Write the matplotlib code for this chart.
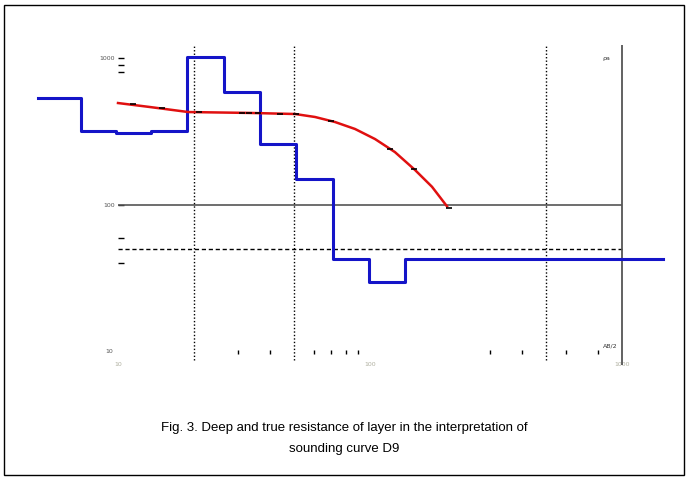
import matplotlib.pyplot as plt
from matplotlib.patches import Rectangle

# true resistance layers (blue step curve)
layer_edges = [4.8, 7.1, 9.8, 13.5, 18.8, 26.3, 36.6, 50.8, 71.3, 99, 138, 1450]
layer_rho = [535, 319, 309, 319, 1016, 587, 260, 150, 43, 30, 43]

# fitted deep resistance curve (red)
curve_ab = [10, 13.4, 19, 33.4, 50.4, 60.5, 72.6, 87.2, 104.7, 125.6, 150.9, 176.2, 202]
curve_rho = [494, 464, 429, 423, 416, 397, 367, 329, 281, 229, 173, 133, 98]

# measured points (black marks)
obs_ab = [11.5, 15, 21, 31, 33, 36, 44, 51, 70, 120, 150, 205]
obs_rho = [487, 458, 427, 421, 421, 420, 419, 417, 370, 240, 175, 96]

y_ticks = [1000, 900, 800, 100, 60, 40]
y_labels = {1000: "1000", 100: "100", 10: "10"}
x_minor = [30, 40, 60, 70, 80, 90, 300, 400, 600, 800]
x_labels = ["10", "100", "1000"]
dotted_x = [20, 50, 500]

fig = plt.figure(figsize=(6.89, 4.8), dpi=100)
fig.patches.append(Rectangle((4 / 689, 5 / 480), 680 / 689, 470 / 480,
                             transform=fig.transFigure, fill=False,
                             edgecolor="black", linewidth=1))

ax = fig.add_axes([30 / 689, 108 / 480, 640 / 689, 332 / 480])
ax.set_xscale("log")
ax.set_yscale("log")
ax.set_xlim(4.475, 1550)
ax.set_ylim(7.31, 1326)
for s in ["top", "right", "left", "bottom"]:
    ax.spines[s].set_visible(False)

# grid lines
ax.hlines(100, 10, 1000, color="#555555", linewidth=1.2)
ax.hlines(50, 10, 1000, color="black", linewidth=1, linestyles=(0, (3, 2)))
ax.vlines(dotted_x, 8.8, 1225, color="black", linewidth=1, linestyles=(0, (1, 1.5)))
ax.vlines(1000, 8.2, 1225, color="#555555", linewidth=1.3)

# curves
ax.step(layer_edges, layer_rho + [layer_rho[-1]], where="post", color="#1414c8", linewidth=2.2)
ax.plot(curve_ab, curve_rho, color="#e01010", linewidth=1.8)
ax.plot(obs_ab, obs_rho, linestyle="none", marker="_", color="black", markersize=4, markeredgewidth=1.2)

# left ticks
ax.set_yticks(y_ticks)
ax.set_yticklabels([y_labels.get(v, "") for v in y_ticks])
ax.yaxis.set_minor_locator(plt.NullLocator())
ax.spines["left"].set_position(("data", 10))
ax.tick_params(axis="y", direction="in", length=4, width=1, pad=2, labelsize=4.5, labelcolor="#555555")
ax.text(9.6, 10, "10", fontsize=4.5, color="#555555", ha="right", va="center")

# bottom ticks
ax.spines["bottom"].set_position(("data", 10))
ax.set_xticks([10, 100, 1000])
ax.set_xticklabels(x_labels)
ax.set_xticks(x_minor, minor=True)
ax.xaxis.set_minor_formatter(plt.NullFormatter())
ax.tick_params(axis="x", which="major", length=0, pad=7, labelsize=4.5, labelcolor="#b0b0a0")
ax.tick_params(axis="x", which="minor", direction="inout", length=3, width=1)
ax.text(900, 10.6, "AB/2", fontsize=4.5, color="#333333", ha="center", va="bottom")
ax.text(870, 1000, "ρa", fontsize=4.5, color="#333333", ha="center", va="center")

fig.text(0.5, 428 / 480, "Fig. 3. Deep and true resistance of layer in the interpretation of",
         ha="center", va="center", fontsize=9.5, family="Liberation Sans")
fig.text(0.5, 449 / 480, "sounding curve D9",
         ha="center", va="center", fontsize=9.5, family="Liberation Sans")

# y of figure text is measured from top in pixels, flip it
for t in fig.texts:
    x, y = t.get_position()
    t.set_position((x, 1 - y))

fig.savefig("out.png", dpi=100)
